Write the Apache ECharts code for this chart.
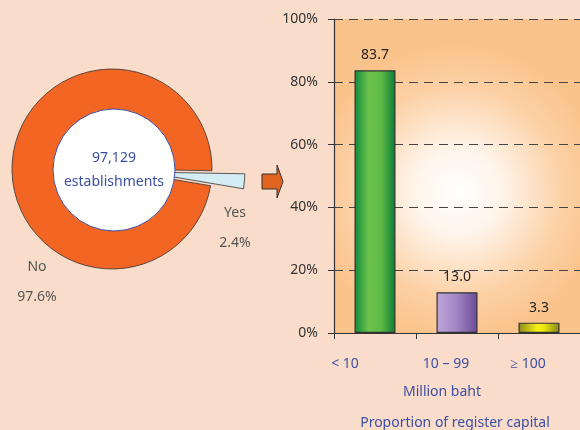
<!DOCTYPE html>
<html><head><meta charset="utf-8">
<script src="https://cdn.jsdelivr.net/npm/echarts@6/dist/echarts.min.js"></script>
<style>html,body{margin:0;padding:0;background:#fadccb}#c{width:580px;height:430px}</style>
</head><body><div id="c"></div>
<script>
var pieNames = ['Yes', 'No'];
var pieValues = [2.4, 97.6];
var totalLabel = '97,129\nestablishments';
var categories = ['< 10', '10 \u2013 99', '\u2265 100'];
var barValues = [83.7, 13.0, 3.3];
var yTicks = [0, 20, 40, 60, 80, 100];
var xName = 'Million baht';
var chartTitle = 'Proportion of register capital';

var FONT = 'Noto Sans';
var BLUE = '#3c4fa6';
function lg(stops){return {type:'linear',x:0,y:0,x2:1,y2:0,colorStops:stops.map(function(s){return {offset:s[0],color:s[1]};})};}
var barFills = [
  lg([[0,'#0f8a3c'],[0.35,'#6cc24b'],[0.65,'#5db946'],[1,'#0a7d35']]),
  lg([[0,'#c0a6d8'],[0.5,'#a184c4'],[1,'#6a4a98']]),
  lg([[0,'#8c8a1e'],[0.45,'#f3ef14'],[0.6,'#f0ec10'],[1,'#858318']])
];
var xShift = [60, 22, 22];
var pieLabelPos = [[235, 228], [37, 282]];

var chart = echarts.init(document.getElementById('c'));
chart.setOption({
  backgroundColor: '#fadccb',
  textStyle: {fontFamily: FONT},
  title: {text: chartTitle, left: 450, top: 411, textAlign: 'center',
    textStyle: {color: BLUE, fontSize: 14, fontWeight: 'normal', fontFamily: FONT}},
  grid: {left: 334, top: 19, bottom: 97, right: -3, show: true, borderWidth: 0,
    backgroundColor: {type:'radial', x:0.5, y:0.55, r:0.6, colorStops:[
      {offset:0,color:'#ffffff'},{offset:0.3,color:'#fff4ea'},{offset:0.72,color:'#fcd0a4'},{offset:1,color:'#fbc38c'}]}},
  xAxis: {type:'category', data: categories,
    axisLine:{lineStyle:{color:'#333',width:1.2}},
    axisTick:{show:true, length:6, lineStyle:{color:'#333'}},
    axisLabel:{margin:24, interval:0, color:BLUE, fontSize:14, fontFamily:FONT,
      formatter:function(v,i){return '{s'+i+'|'+v+'}';},
      rich:{s0:{padding:[0,xShift[0],0,0],color:BLUE,fontSize:14,fontFamily:FONT},
            s1:{padding:[0,xShift[1],0,0],color:BLUE,fontSize:14,fontFamily:FONT},
            s2:{padding:[0,xShift[2],0,0],color:BLUE,fontSize:14,fontFamily:FONT}}},
    name: xName, nameLocation:'middle', nameGap:52,
    nameTextStyle:{color:BLUE, fontSize:14, fontFamily:FONT, padding:[0,30,0,0]}},
  yAxis: {type:'value', min: yTicks[0], max: yTicks[yTicks.length-1], interval: yTicks[1]-yTicks[0],
    axisLine:{show:true, lineStyle:{color:'#333',width:1.2}},
    axisTick:{show:true, length:6, lineStyle:{color:'#333'}},
    axisLabel:{formatter:'{value}%', color:'#333', fontSize:14, margin:16, fontFamily:FONT},
    splitLine:{show:true, lineStyle:{color:'#444', type:[9,6], width:1}}},
  series: [
    {type:'bar', barWidth:41, data: barValues.map(function(v,i){return {value:v, itemStyle:{color:barFills[i]}};}),
      itemStyle:{borderColor:'#333', borderWidth:1.2},
      label:{show:true, position:'top', distance:8, color:'#222', fontSize:14, fontFamily:FONT,
        formatter:function(p){return p.value.toFixed(1);}}, emphasis:{disabled:true}, silent:true},
    {type:'pie', center:[112,169], radius:[0,100], startAngle:-1, clockwise:true,
      selectedMode:'single', selectedOffset:33, silent:true,
      emphasis:{disabled:true}, animation:false,
      itemStyle:{borderColor:'#333', borderWidth:0.8},
      data: pieNames.map(function(n,i){return {name:n, value:pieValues[i], selected: i===0,
        itemStyle:{color: i===0 ? '#d4edf4' : '#f26522'}};}),
      label:{show:false}, labelLine:{show:false}},
    {type:'pie', center:[114,170], radius:[0,61], silent:true, animation:false, emphasis:{disabled:true},
      itemStyle:{color:'#ffffff', borderColor:'#3f51a5', borderWidth:1},
      data:[{name:totalLabel, value:1}],
      label:{show:true, position:'center', color:BLUE, fontSize:14, lineHeight:24, fontFamily:FONT, formatter:'{b}'},
      labelLine:{show:false}}
  ],
  graphic: [
    {type:'polygon', shape:{points:[[262,174],[277,174],[277,165],[283,181.5],[277,198],[277,189],[262,189]]},
      style:{fill:'#e0631f', stroke:'#333', lineWidth:1}}
  ].concat(pieNames.map(function(n,i){
    return {type:'text', x:pieLabelPos[i][0], y:pieLabelPos[i][1],
      style:{text: n + '\n' + pieValues[i].toFixed(1) + '%', fill:'#555', font:'14px "Noto Sans"',
        lineHeight:30, align:'center', verticalAlign:'middle'}};
  }))
});
</script></body></html>
